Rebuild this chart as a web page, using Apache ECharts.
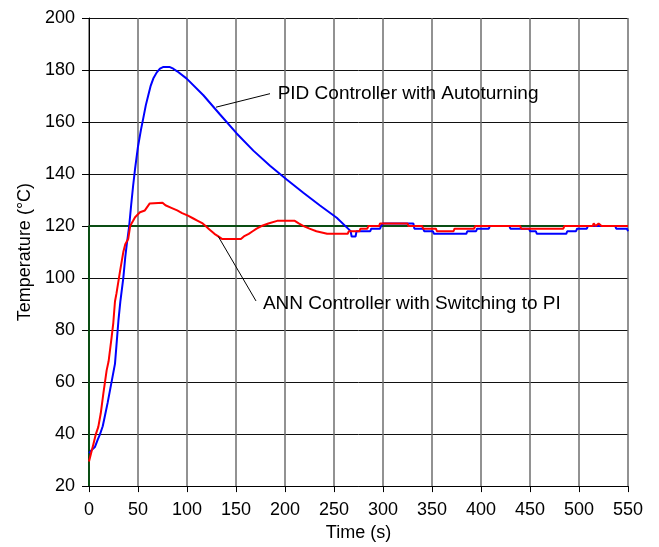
<!DOCTYPE html>
<html>
<head>
<meta charset="utf-8">
<script src="https://cdn.jsdelivr.net/npm/echarts@6/dist/echarts.min.js"></script>
<style>
  html, body { margin: 0; padding: 0; background: #fff; }
  #chart { width: 659px; height: 547px; }
</style>
</head>
<body>
<div id="chart"></div>
<script>
  // setpoint step
  var setTime = [0, 0, 550];
  var setTemp = [20, 120, 120];

  // PID controller with autotuning (blue)
  var pidTime = [0, 3, 6, 9, 11, 14, 16, 19, 21.4, 24, 26.5, 28, 30, 32, 35, 37, 38.4, 41, 43, 45, 47, 50, 53, 55.4, 58, 60.5, 63, 65.6, 69, 72.4, 76, 82, 86, 90, 99.7, 116.7, 133.7, 150.7, 167.7, 184.7, 201.7, 218.7, 235.7, 252.8, 264.6, 267, 268, 272, 273, 287, 288, 297, 298, 300, 331, 332, 341, 342, 351, 352, 385, 386, 395, 396, 408, 409, 429, 430, 449, 450, 456, 457, 487, 488, 497, 498, 508, 509, 537, 538, 549, 550];
  var pidTemp = [32.7, 34, 35, 38, 39.7, 43, 46.6, 52, 56.8, 62, 67, 74, 83.5, 91, 100, 108, 112.6, 120, 128, 135.4, 142, 150.6, 157, 161.5, 166.5, 170.3, 174, 176.7, 179, 180.5, 181.2, 181.2, 180.5, 179.5, 176.7, 170.3, 162.9, 155.6, 149, 143.2, 137.9, 132.8, 127.9, 123.2, 118.9, 118, 116, 116, 118, 118, 119, 119, 120, 121, 121, 119, 119, 118, 118, 117, 117, 118, 118, 119, 119, 120, 120, 119, 119, 118, 118, 117, 117, 118, 118, 119, 119, 120, 120, 119, 119, 118];

  // ANN controller with switching to PI (red)
  var annTime = [0, 1, 4.4, 7, 9.5, 12, 14.6, 18, 20, 23, 24.8, 26.5, 28, 31.6, 35, 37, 40, 42, 45, 47, 52, 57, 62, 64, 75, 78, 84, 90, 95, 101, 106, 111, 116, 119, 122, 125, 128, 132, 136, 155, 158, 163, 167, 171, 176, 183, 192, 210, 214, 219, 225, 232, 243, 264, 265, 276, 277, 284, 285, 296, 297, 325, 326, 340, 341, 354, 355, 372, 373, 393, 394, 440, 441, 484, 485, 514, 515, 516, 517, 519, 520, 522, 523, 550];
  var annTemp = [29.5, 29.5, 36, 40, 42.8, 48, 55.5, 64.5, 68, 77, 82.8, 91, 94, 102.5, 110, 113, 115, 120, 122, 123.4, 125.3, 126, 128.7, 129, 129, 128, 127, 126, 125, 124, 123, 122, 121, 120, 119, 118, 117, 116, 115, 115, 116, 117, 118, 119, 120, 121, 122, 122, 121, 120, 119, 118, 117, 117, 118, 118, 119, 119, 120, 120, 121, 121, 120, 120, 119, 119, 118, 118, 119, 119, 120, 120, 119, 119, 120, 120, 121, 121, 120, 120, 121, 121, 120, 120];

  // annotations: leader line start/end and text anchor, in data units
  var pidNote = { text: 'PID Controller with Autoturning', from: [129.6, 165.7], to: [184.7, 170.9], at: [192.5, 170.9] };
  var annNote = { text: 'ANN Controller with Switching to PI', from: [131.9, 116], to: [170.4, 91.2], at: [177.5, 90.3] };

  function zip(a, b) {
    return a.map(function (v, i) { return [v, b[i]]; });
  }

  var chart = echarts.init(document.getElementById('chart'));
  var font = 'Liberation Sans, Arial, sans-serif';

  var option = {
    animation: false,
    grid: { left: 89, right: 31, top: 18, bottom: 59 },
    xAxis: {
      type: 'value',
      min: 0, max: 550, interval: 50,
      name: 'Time (s)',
      nameLocation: 'middle',
      nameGap: 35,
      nameTextStyle: { color: '#000', fontSize: 18, fontFamily: font },
      axisLine: { lineStyle: { color: '#000', width: 1 } },
      axisTick: { show: true, length: 6, lineStyle: { color: '#000' } },
      axisLabel: { color: '#000', fontSize: 18, fontFamily: font, margin: 15 },
      splitLine: { show: true, lineStyle: { color: '#6e6e6e', width: 1.5 } }
    },
    yAxis: {
      type: 'value',
      min: 20, max: 200, interval: 20,
      name: 'Temperature (°C)',
      nameLocation: 'middle',
      nameGap: 51,
      nameTextStyle: { color: '#000', fontSize: 18, fontFamily: font },
      axisLine: { show: true, lineStyle: { color: '#000', width: 1 } },
      axisTick: { show: true, length: 7, lineStyle: { color: '#000' } },
      axisLabel: { color: '#000', fontSize: 18, fontFamily: font, margin: 14 },
      splitLine: { show: true, lineStyle: { color: '#111', width: 1 } }
    },
    series: [
      {
        name: 'Setpoint',
        type: 'line',
        data: zip(setTime, setTemp),
        showSymbol: false,
        lineStyle: { color: '#0a4d14', width: 2 },
        z: 2
      },
      {
        name: 'PID',
        type: 'line',
        data: zip(pidTime, pidTemp),
        showSymbol: false,
        lineStyle: { color: '#0000ff', width: 2 },
        z: 3,
        markLine: {
          silent: true,
          symbol: 'none',
          label: { show: false },
          lineStyle: { color: '#000', width: 1, type: 'solid' },
          data: [
            [{ coord: pidNote.from }, { coord: pidNote.to }],
            [{ coord: annNote.from }, { coord: annNote.to }]
          ]
        }
      },
      {
        name: 'ANN',
        type: 'line',
        data: zip(annTime, annTemp),
        showSymbol: false,
        lineStyle: { color: '#ff0000', width: 2 },
        z: 4
      }
    ]
  };
  chart.setOption(option);

  function noteText(n) {
    var p = chart.convertToPixel({ gridIndex: 0 }, n.at);
    return {
      type: 'text',
      x: p[0], y: p[1],
      style: { text: n.text, fill: '#000', fontSize: 19, fontFamily: font, align: 'left', verticalAlign: 'middle' },
      z: 10
    };
  }
  chart.setOption({ graphic: [noteText(pidNote), noteText(annNote)] });
</script>
</body>
</html>
